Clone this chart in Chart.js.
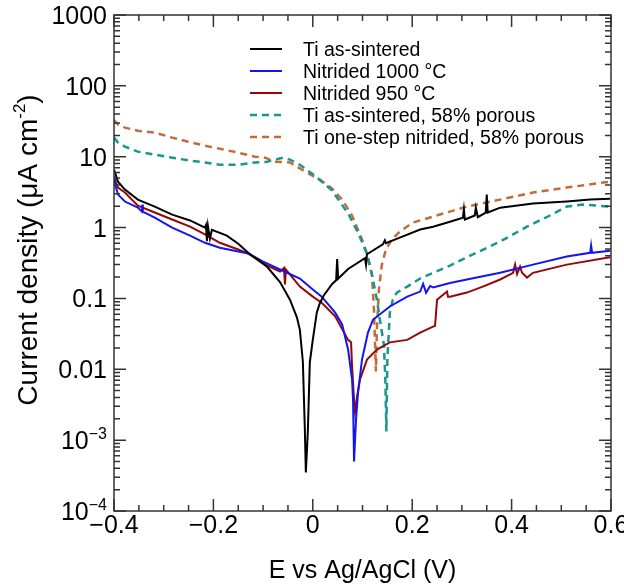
<!DOCTYPE html>
<html>
<head>
<meta charset="utf-8">
<script src="https://cdn.jsdelivr.net/npm/chart.js@4.4.0/dist/chart.umd.min.js"></script>
<style>
  body { margin: 0; background: #fff; }
  #wrap { width: 624px; height: 588px; }
</style>
</head>
<body>
<div id="wrap"><canvas id="tafel" width="624" height="588"></canvas></div>
<script>
// Potentiodynamic polarisation curves: E (V vs Ag/AgCl) against current density (µA cm-2)
const asSinteredE = [-0.400, -0.396, -0.392, -0.378, -0.352, -0.318, -0.283, -0.247, -0.217, -0.215, -0.213, -0.211, -0.207, -0.203, -0.173, -0.150, -0.130, -0.110, -0.092, -0.066, -0.046, -0.032, -0.026, -0.020, -0.016, -0.014, -0.010, -0.006, 0.000, 0.008, 0.014, 0.022, 0.039, 0.047, 0.049, 0.051, 0.071, 0.105, 0.107, 0.109, 0.141, 0.145, 0.147, 0.175, 0.216, 0.242, 0.276, 0.302, 0.304, 0.306, 0.326, 0.328, 0.332, 0.348, 0.350, 0.352, 0.377, 0.443, 0.511, 0.558, 0.598];
const asSinteredI = [6.58, 5.41, 4.45, 3.44, 2.48, 1.98, 1.52, 1.26, 1.0, 1.08, 0.64, 1.05, 0.70, 0.93, 0.77, 0.59, 0.44, 0.35, 0.28, 0.17, 0.096, 0.054, 0.036, 0.0129, 0.0014, 0.00035, 0.0013, 0.0125, 0.026, 0.063, 0.085, 0.11, 0.16, 0.18, 0.36, 0.19, 0.26, 0.37, 0.30, 0.42, 0.58, 0.66, 0.60, 0.72, 0.94, 1.03, 1.21, 1.38, 1.80, 1.30, 1.48, 1.91, 1.40, 1.63, 2.92, 1.63, 1.91, 2.18, 2.33, 2.48, 2.56];

const nit1000E = [-0.400, -0.396, -0.392, -0.378, -0.352, -0.344, -0.343, -0.342, -0.318, -0.283, -0.247, -0.217, -0.187, -0.150, -0.130, -0.100, -0.066, -0.026, 0.000, 0.018, 0.045, 0.059, 0.071, 0.079, 0.081, 0.083, 0.087, 0.091, 0.099, 0.111, 0.121, 0.155, 0.190, 0.216, 0.222, 0.228, 0.236, 0.242, 0.276, 0.310, 0.377, 0.443, 0.511, 0.558, 0.560, 0.562, 0.598];
const nit1000I = [5.07, 3.67, 2.92, 2.33, 1.91, 1.68, 2.11, 1.68, 1.38, 1.0, 0.77, 0.61, 0.52, 0.46, 0.43, 0.33, 0.256, 0.191, 0.134, 0.106, 0.063, 0.043, 0.019, 0.0072, 0.0037, 0.0005, 0.00196, 0.0047, 0.0137, 0.033, 0.050, 0.077, 0.106, 0.125, 0.16, 0.12, 0.15, 0.143, 0.165, 0.185, 0.23, 0.30, 0.39, 0.44, 0.56, 0.44, 0.47];

const nit950E = [-0.400, -0.396, -0.392, -0.378, -0.352, -0.318, -0.283, -0.247, -0.217, -0.187, -0.150, -0.130, -0.100, -0.066, -0.058, -0.056, -0.054, -0.026, 0.000, 0.018, 0.045, 0.071, 0.077, 0.079, 0.083, 0.085, 0.089, 0.095, 0.109, 0.129, 0.155, 0.190, 0.216, 0.242, 0.246, 0.250, 0.270, 0.272, 0.276, 0.310, 0.342, 0.377, 0.403, 0.407, 0.411, 0.417, 0.421, 0.431, 0.443, 0.511, 0.598];
const nit950I = [5.24, 4.31, 3.67, 3.12, 2.04, 1.63, 1.30, 1.03, 0.80, 0.61, 0.49, 0.43, 0.31, 0.24, 0.27, 0.157, 0.256, 0.147, 0.106, 0.087, 0.056, 0.026, 0.024, 0.011, 0.0037, 0.0025, 0.0041, 0.0072, 0.0137, 0.019, 0.024, 0.026, 0.033, 0.040, 0.041, 0.096, 0.125, 0.106, 0.106, 0.121, 0.147, 0.185, 0.23, 0.30, 0.22, 0.28, 0.23, 0.197, 0.23, 0.30, 0.38];

const porousE = [-0.400, -0.392, -0.378, -0.352, -0.318, -0.283, -0.247, -0.217, -0.187, -0.150, -0.116, -0.092, -0.076, -0.060, -0.046, -0.026, 0.004, 0.039, 0.071, 0.091, 0.107, 0.119, 0.129, 0.135, 0.143, 0.146, 0.148, 0.150, 0.155, 0.161, 0.169, 0.190, 0.216, 0.242, 0.276, 0.310, 0.377, 0.431, 0.477, 0.511, 0.544, 0.598];
const porousI = [18.6, 15.8, 13.9, 11.8, 10.7, 9.7, 8.8, 8.3, 7.7, 7.7, 8.3, 8.5, 9.1, 9.7, 9.1, 7.7, 5.41, 3.32, 1.58, 0.85, 0.46, 0.217, 0.096, 0.050, 0.0224, 0.0072, 0.00133, 0.0137, 0.063, 0.096, 0.121, 0.147, 0.191, 0.23, 0.29, 0.38, 0.635, 1.03, 1.48, 1.98, 2.11, 1.98];

const porousNitE = [-0.400, -0.392, -0.378, -0.352, -0.318, -0.283, -0.251, -0.217, -0.197, -0.150, -0.116, -0.096, -0.076, -0.046, -0.016, 0.014, 0.039, 0.059, 0.079, 0.099, 0.111, 0.119, 0.123, 0.125, 0.127, 0.129, 0.133, 0.139, 0.147, 0.159, 0.175, 0.202, 0.242, 0.310, 0.377, 0.443, 0.511, 0.598];
const porousNitI = [33.0, 28.4, 25.7, 23.3, 21.9, 18.6, 16.3, 14.3, 13.4, 11.4, 10.0, 9.7, 8.5, 8.3, 6.2, 4.75, 3.55, 2.48, 1.48, 0.68, 0.39, 0.217, 0.070, 0.026, 0.0093, 0.036, 0.134, 0.30, 0.49, 0.68, 0.88, 1.18, 1.43, 1.98, 2.48, 3.12, 3.67, 4.45];

const seriesLabels = ['Ti as-sintered', 'Nitrided 1000 °C', 'Nitrided 950 °C', 'Ti as-sintered, 58% porous', 'Ti one-step nitrided, 58% porous'];
const xTickLabels = [-0.4, -0.2, 0, 0.2, 0.4, 0.6];
const yTickValues = [1000, 100, 10, 1, 0.1, 0.01, 0.001, 0.0001];
const yTickLabels = ['1000', '100', '10', '1', '0.1', '0.01', '10^−3', '10^−4'];

const FONT = '"Liberation Sans", Arial, sans-serif';

const series = [
  { e: asSinteredE, i: asSinteredI, color: '#000000', dash: [] },
  { e: nit1000E, i: nit1000I, color: '#1414f0', dash: [] },
  { e: nit950E, i: nit950I, color: '#950808', dash: [] },
  { e: porousE, i: porousI, color: '#17978d', dash: [7, 5] },
  { e: porousNitE, i: porousNitI, color: '#c26c3a', dash: [7, 5] }
];

// text with an optional raised part: pieces = [[text, isSup], ...]
function drawPieces(ctx, pieces, x, y, size, align) {
  const supSize = Math.round(size * 0.62);
  let total = 0;
  const widths = pieces.map(([t, sup]) => {
    ctx.font = (sup ? supSize : size) + 'px ' + FONT;
    const w = ctx.measureText(t).width;
    total += w;
    return w;
  });
  let cx = align === 'right' ? x - total : align === 'center' ? x - total / 2 : x;
  ctx.textAlign = 'left';
  ctx.textBaseline = 'alphabetic';
  pieces.forEach(([t, sup], k) => {
    ctx.font = (sup ? supSize : size) + 'px ' + FONT;
    ctx.fillText(t, cx, sup ? y - size * 0.42 : y);
    cx += widths[k];
  });
}

const axesFrame = {
  id: 'axesFrame',
  afterDatasetsDraw(chart) {
    const { ctx, chartArea: a, scales: { x, y } } = chart;
    ctx.save();
    ctx.strokeStyle = '#333';
    ctx.lineWidth = 1.5;
    ctx.setLineDash([]);
    ctx.strokeRect(a.left, a.top, a.right - a.left, a.bottom - a.top);

    // inward ticks on all four sides
    ctx.beginPath();
    for (let k = 0; k <= 20; k++) {
      const px = x.getPixelForValue(-0.4 + k * 0.05);
      const len = k % 4 === 0 ? 12 : 6;
      ctx.moveTo(px, a.bottom); ctx.lineTo(px, a.bottom - len);
      ctx.moveTo(px, a.top); ctx.lineTo(px, a.top + len);
    }
    for (let d = -4; d <= 3; d++) {
      for (let m = 1; m <= 9; m++) {
        const v = m * Math.pow(10, d);
        if (v > 1000) break;
        const py = y.getPixelForValue(v);
        const len = m === 1 ? 12 : 6;
        ctx.moveTo(a.left, py); ctx.lineTo(a.left + len, py);
        ctx.moveTo(a.right, py); ctx.lineTo(a.right - len, py);
      }
    }
    ctx.stroke();

    ctx.fillStyle = '#000';
    // x tick labels
    ctx.font = '25px ' + FONT;
    ctx.textAlign = 'center';
    ctx.textBaseline = 'alphabetic';
    xTickLabels.forEach(v => {
      const txt = v === 0 ? '0' : (v < 0 ? '−' : '') + Math.abs(v).toFixed(1);
      ctx.fillText(txt, x.getPixelForValue(v), a.bottom + 22);
    });
    // y tick labels
    yTickValues.forEach((v, k) => {
      const py = y.getPixelForValue(v);
      const parts = yTickLabels[k].split('^');
      const pieces = parts.length > 1 ? [[parts[0], false], [parts[1], true]] : [[parts[0], false]];
      drawPieces(ctx, pieces, a.left - 7, py + 9, 25, 'right');
    });

    // axis titles
    drawPieces(ctx, [['E vs Ag/AgCl (V)', false]], (a.left + a.right) / 2, 578, 25, 'center');
    ctx.save();
    ctx.translate(37, 250);
    ctx.rotate(-Math.PI / 2);
    drawPieces(ctx, [['Current density (μA cm', false], ['-2', true], [')', false]], 0, 0, 28, 'center');
    ctx.restore();

    // legend
    chart.data.datasets.forEach((ds, k) => {
      const ly = a.top + 34 + k * 22;
      ctx.beginPath();
      ctx.strokeStyle = ds.borderColor;
      ctx.lineWidth = ds.borderWidth;
      ctx.setLineDash(ds.borderDash);
      ctx.moveTo(a.left + 136, ly);
      ctx.lineTo(a.left + 168, ly);
      ctx.stroke();
      ctx.setLineDash([]);
      ctx.fillStyle = '#000';
      ctx.font = '19.5px ' + FONT;
      ctx.textAlign = 'left';
      ctx.fillText(ds.label, a.left + 189, ly + 7);
    });
    ctx.restore();
  }
};

new Chart(document.getElementById('tafel'), {
  type: 'line',
  data: {
    datasets: series.map((s, k) => ({
      label: seriesLabels[k],
      data: s.e.map((e, n) => ({ x: e, y: s.i[n] })),
      borderColor: s.color,
      borderWidth: s.dash.length ? 2.5 : 2,
      borderDash: s.dash,
      pointRadius: 0,
      tension: 0,
      fill: false
    }))
  },
  options: {
    responsive: false,
    animation: false,
    devicePixelRatio: 1,
    layout: { padding: { left: 114, top: 15, right: 13, bottom: 77 } },
    plugins: { legend: { display: false }, tooltip: { enabled: false } },
    scales: {
      x: {
        type: 'linear', min: -0.4, max: 0.6,
        grid: { display: false, drawTicks: false },
        border: { display: false },
        ticks: { display: false }
      },
      y: {
        type: 'logarithmic', min: 0.0001, max: 1000,
        grid: { display: false, drawTicks: false },
        border: { display: false },
        ticks: { display: false }
      }
    }
  },
  plugins: [axesFrame]
});
</script>
</body>
</html>
